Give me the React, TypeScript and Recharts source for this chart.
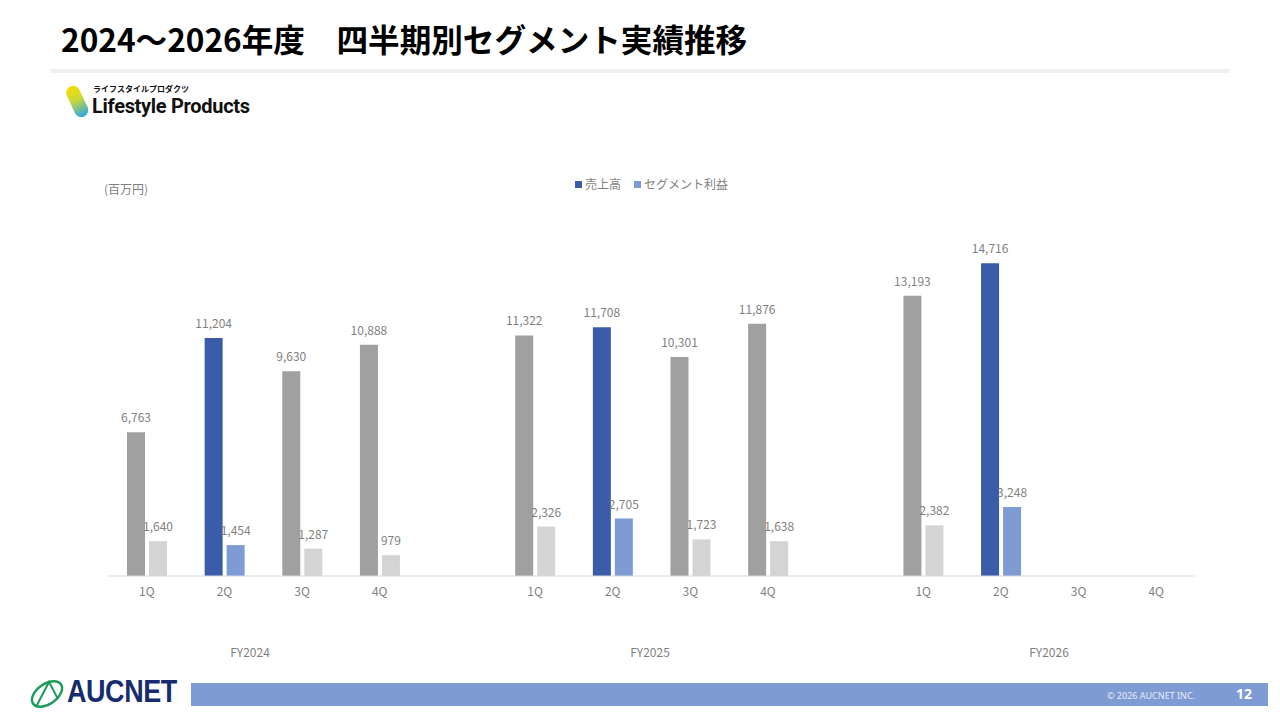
import { Bar, BarChart, Cell, LabelList, Legend, XAxis, YAxis } from "recharts";

const SALES_GRAY = "#a0a0a0";
const SALES_BLUE = "#3a5ca9";
const PROFIT_GRAY = "#d4d4d4";
const PROFIT_BLUE = "#7f9bd4";
const TEXT_GRAY = "#7f7f7f";
const FONT = '"Noto Sans CJK JP", "Noto Sans", sans-serif';

// 14 slots: 4 quarters per fiscal year with an empty slot between years
const quarters = ["1Q", "2Q", "3Q", "4Q", "", "1Q", "2Q", "3Q", "4Q", "", "1Q", "2Q", "3Q", "4Q"];
const sales = [6763, 11204, 9630, 10888, null, 11322, 11708, 10301, 11876, null, 13193, 14716, null, null];
const profit = [1640, 1454, 1287, 979, null, 2326, 2705, 1723, 1638, null, 2382, 3248, null, null];
const fiscalYears = ["FY2024", "FY2025", "FY2026"];
const highlightQuarter = "2Q";
const seriesNames = ["売上高", "セグメント利益"];

const data = quarters.map((q, i) => ({ quarter: q, sales: sales[i], profit: profit[i] }));

const fmt = (v: any) => (v == null ? "" : Number(v).toLocaleString("en-US"));

function LegendContent(props: any) {
  // keep series order, not the alphabetical order recharts hands over
  const items = [...(props.payload || [])].sort(
    (a: any, b: any) => seriesNames.indexOf(a.value) - seriesNames.indexOf(b.value)
  );
  return (
    <div style={{ display: "flex", justifyContent: "center", gap: 13, fontSize: 12, color: TEXT_GRAY, lineHeight: "16px" }}>
      {items.map((it: any) => (
        <span key={it.value} style={{ display: "flex", alignItems: "center" }}>
          <span style={{ width: 7, height: 7, background: it.color, marginRight: 3, display: "inline-block" }} />
          {it.value}
        </span>
      ))}
    </div>
  );
}

function LifestyleLogo() {
  return (
    <div style={{ position: "absolute", left: 62, top: 84 }}>
      <svg width={32} height={38} style={{ position: "absolute", left: 0, top: 0 }}>
        <defs>
          <linearGradient id="lp" x1="0" y1="0" x2="0" y2="1">
            <stop offset="0" stopColor="#f7dc00" />
            <stop offset="0.45" stopColor="#c8d83a" />
            <stop offset="1" stopColor="#2aa6e6" />
          </linearGradient>
        </defs>
        <rect x={8} y={1} width={14} height={33} rx={7} fill="url(#lp)" transform="rotate(-25 15 17)" />
      </svg>
      <div style={{ position: "absolute", left: 31, top: 0, fontSize: 8, lineHeight: "9px", fontWeight: 700, whiteSpace: "nowrap", color: "#111" }}>
        ライフスタイルプロダクツ
      </div>
      <div style={{ position: "absolute", left: 30, top: 12, fontSize: 20, lineHeight: "20px", fontWeight: 700, whiteSpace: "nowrap", color: "#111", letterSpacing: -0.3, fontFamily: 'Roboto, "Noto Sans", sans-serif' }}>
        Lifestyle Products
      </div>
    </div>
  );
}

function AucnetLogo() {
  return (
    <div style={{ position: "absolute", left: 28, top: 678 }}>
      <svg width={40} height={32} style={{ position: "absolute", left: 0, top: 0 }}>
        <ellipse cx={19} cy={16} rx={17} ry={10} fill="none" stroke="#1d9a5c" strokeWidth={2.4} transform="rotate(-35 19 16)" />
        <path d="M9 27 L21 4 L30 21" fill="none" stroke="#1d9a5c" strokeWidth={2} />
      </svg>
      <div style={{ position: "absolute", left: 39, top: -4, fontSize: 31, fontWeight: 700, color: "#172c6e", fontFamily: '"Liberation Sans", Arial, sans-serif', transform: "scaleX(0.87)", transformOrigin: "left center", whiteSpace: "nowrap", letterSpacing: -0.5 }}>
        AUCNET
      </div>
    </div>
  );
}

export default function App() {
  const fyCenters = [250, 650, 1049];
  return (
    <div style={{ position: "absolute", left: 0, top: 0, width: 1280, height: 720, background: "#fff", fontFamily: FONT, overflow: "hidden" }}>
      <div style={{ position: "absolute", left: 61, top: 20, fontSize: 31.6, fontWeight: 700, color: "#000", lineHeight: "36px", whiteSpace: "nowrap" }}>
        2024～2026年度　四半期別セグメント実績推移
      </div>
      <div style={{ position: "absolute", left: 50, top: 69, width: 1180, height: 4, background: "#eef0f3" }} />
      <LifestyleLogo />

      <div style={{ position: "absolute", left: 104, top: 180, fontSize: 12, color: TEXT_GRAY, lineHeight: "18px" }}>(百万円)</div>

      <div style={{ position: "absolute", left: 0, top: 0 }}>
        <BarChart
          width={1280}
          height={720}
          data={data}
          margin={{ top: 236, right: 85, bottom: 114, left: 108 }}
          barGap={4}
          barSize={18}
        >
          <XAxis
            dataKey="quarter"
            interval={0}
            height={30}
            tickLine={false}
            tickSize={0}
            tickMargin={11}
            axisLine={{ stroke: "#d9d9d9" }}
            tick={{ fill: TEXT_GRAY, fontSize: 12, fontFamily: FONT }}
          />
          <YAxis hide domain={[0, 16000]} />
          <Legend
            verticalAlign="middle"
            align="center"
            content={<LegendContent />}
            wrapperStyle={{ top: 176, left: 108, width: 1087 }}
          />
          <Bar dataKey="sales" name={seriesNames[0]} fill={SALES_BLUE} isAnimationActive={false}>
            {data.map((d, i) => (
              <Cell key={i} fill={d.quarter === highlightQuarter ? SALES_BLUE : SALES_GRAY} />
            ))}
            <LabelList dataKey="sales" position="top" offset={10} formatter={fmt} fill={TEXT_GRAY} fontSize={12} fontFamily={FONT} />
          </Bar>
          <Bar dataKey="profit" name={seriesNames[1]} fill={PROFIT_BLUE} isAnimationActive={false}>
            {data.map((d, i) => (
              <Cell key={i} fill={d.quarter === highlightQuarter ? PROFIT_BLUE : PROFIT_GRAY} />
            ))}
            <LabelList dataKey="profit" position="top" offset={10} formatter={fmt} fill={TEXT_GRAY} fontSize={12} fontFamily={FONT} />
          </Bar>
        </BarChart>
      </div>

      {fiscalYears.map((fy, i) => (
        <div key={fy} style={{ position: "absolute", left: fyCenters[i] - 40, width: 80, top: 643, textAlign: "center", fontSize: 12, color: TEXT_GRAY, lineHeight: "18px" }}>
          {fy}
        </div>
      ))}

      <AucnetLogo />
      <div style={{ position: "absolute", left: 191, top: 683, width: 1077, height: 23, background: PROFIT_BLUE }} />
      <div style={{ position: "absolute", left: 1060, width: 135, top: 689, textAlign: "right", fontSize: 9, color: "#e9edf7", lineHeight: "14px", fontFamily: '"Noto Sans", sans-serif' }}>
        © 2026 AUCNET INC.
      </div>
      <div style={{ position: "absolute", left: 1236, top: 685, fontSize: 14, fontWeight: 700, color: "#fff", lineHeight: "18px", fontFamily: '"Noto Sans", sans-serif' }}>
        12
      </div>
    </div>
  );
}
